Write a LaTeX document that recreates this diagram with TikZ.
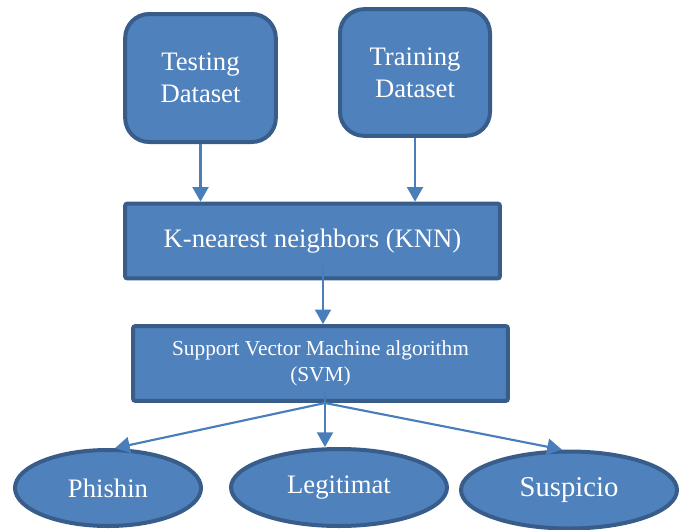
\documentclass[tikz,border=0pt]{standalone}
\usepackage{fontspec}
\setmainfont{Liberation Serif}
\usetikzlibrary{arrows.meta,shapes.geometric}
\definecolor{boxfill}{HTML}{4F81BD}
\definecolor{boxline}{HTML}{385D8A}
\definecolor{arrowblue}{HTML}{4A7EBB}
\begin{document}
\begin{tikzpicture}[x=0.75pt,y=-0.75pt,
  base/.style={fill=boxfill,draw=boxline,line width=3pt,text=white,align=center,inner sep=0pt},
  databox/.style={base,rectangle,rounded corners=18pt,font=\fontsize{20}{24}\selectfont},
  algbox/.style={base,rectangle,rounded corners=1.5pt,minimum width=281pt,minimum height=56pt},
  classnode/.style={base,ellipse,font=\fontsize{20}{24}\selectfont},
  arr/.style={draw=arrowblue,line width=1.6pt,-{Triangle[length=11pt,width=12pt]}}
]
\useasboundingbox (0,0) rectangle (682,529);

% input datasets
\node[databox,minimum width=113pt,minimum height=96pt] (test) at (200.5,78) {Testing\\Dataset};
\node[databox,minimum width=112.5pt,minimum height=95pt] (train) at (415,72.5) {Training\\Dataset};

% classifiers
\node[algbox,font=\fontsize{20}{24}\selectfont] (knn) at (312.5,241) {K-nearest neighbors (KNN)};
\node[algbox,font=\fontsize{16}{19.5}\selectfont] (svm) at (320.5,363.5) {Support Vector Machine algorithm\\(SVM)};

% output classes
\node[classnode,minimum width=139.5pt,minimum height=57pt] (phish) at (108,488) {Phishin};
\node[classnode,minimum width=162pt,minimum height=57.75pt] (legit) at (339,487.5) {Legitimat};
\node[classnode,minimum width=162pt,minimum height=57.75pt,font=\fontsize{21.5}{24}\selectfont] (susp) at (569,490) {Suspicio};

% connectors
\coordinate (k1) at (323,265);
\coordinate (s1) at (325,390);
\coordinate (s2) at (325,403);
\draw[arr] (test.south) -- (test.south |- knn.north);
\draw[arr] (train.south) -- (train.south |- knn.north);
\draw[arr] (k1) -- (k1 |- svm.north);
\draw[arr] (s1) -- (s1 |- legit.north);
\draw[arr] (s2) -- (phish.80);
\draw[arr] (s2) -- (susp.100);
\end{tikzpicture}
\end{document}
